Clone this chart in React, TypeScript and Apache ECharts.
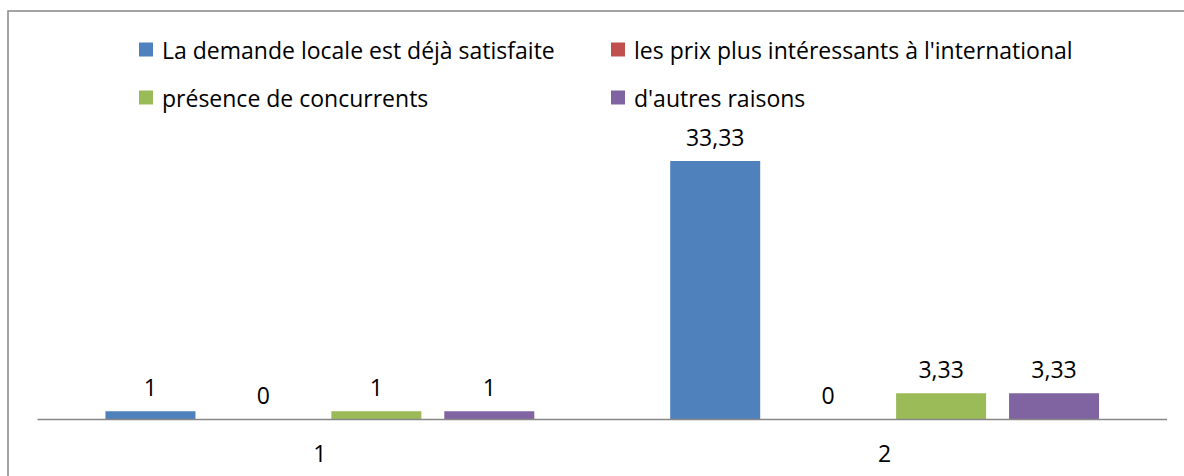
import React, { useEffect, useRef } from "react";
import * as echarts from "echarts";

const categories = ["1", "2"];
const seriesNames = [
  "La demande locale est déjà satisfaite",
  "les prix plus intéressants à l'international",
  "présence de concurrents",
  "d'autres raisons",
];
const demandeLocale = [1, 33.33];
const prixInternational = [0, 0];
const concurrents = [1, 3.33];
const autresRaisons = [1, 3.33];
const colors = ["#4F81BD", "#C0504D", "#9BBB59", "#8064A2"];

const FONT = "Open Sans";
const FS = 23;

export default function App() {
  const ref = useRef<HTMLDivElement>(null);
  useEffect(() => {
    if (!ref.current) return;
    const chart = echarts.init(ref.current, undefined, { renderer: "svg" });
    const values = [demandeLocale, prixInternational, concurrents, autresRaisons];
    const legendPos = [
      { left: 139, top: 38 },
      { left: 611, top: 38 },
      { left: 139, top: 86 },
      { left: 611, top: 86 },
    ];
    chart.setOption({
      animation: false,
      color: colors,
      textStyle: { fontFamily: FONT },
      graphic: [
        {
          type: "rect",
          shape: { x: 8, y: 11, width: 1300, height: 600 },
          style: { fill: "none", stroke: "#878787", lineWidth: 1.5 },
          silent: true,
        },
        {
          type: "line",
          shape: { x1: 37.5, y1: 419.5, x2: 1167, y2: 419.5 },
          style: { stroke: "#878787", lineWidth: 1.5 },
          silent: true,
          z: 10,
        },
      ],
      legend: seriesNames.map((n, i) => ({
        data: [n],
        left: legendPos[i].left,
        top: legendPos[i].top,
        orient: "horizontal",
        itemWidth: 14,
        itemHeight: 14,
        icon: "rect",
        selectedMode: false,
        padding: 0,
        textStyle: {
          fontFamily: FONT,
          fontSize: FS,
          color: "#000",
          padding: [0, 0, 0, 4],
        },
      })),
      grid: { left: 37.5, right: 17, top: 109.4, bottom: 57, containLabel: false },
      xAxis: {
        type: "category",
        data: categories,
        axisLine: { show: false },
        axisTick: { show: false },
        axisLabel: { fontFamily: FONT, fontSize: FS, color: "#000", margin: 22 },
      },
      yAxis: {
        type: "value",
        min: 0,
        max: 40,
        show: false,
        splitLine: { show: false },
      },
      series: seriesNames.map((n, i) => ({
        name: n,
        type: "bar",
        data: values[i],
        barWidth: 90,
        barGap: "25.5%",
        itemStyle: { color: colors[i] },
        label: {
          show: true,
          position: "top",
          distance: 13,
          fontFamily: FONT,
          fontSize: FS,
          color: "#000",
          formatter: (p: any) => String(p.value).replace(".", ","),
        },
      })),
    });
    return () => chart.dispose();
  }, []);
  return (
    <div
      ref={ref}
      style={{ position: "fixed", left: 0, top: 0, width: 1184, height: 476, background: "#fff" }}
    />
  );
}
